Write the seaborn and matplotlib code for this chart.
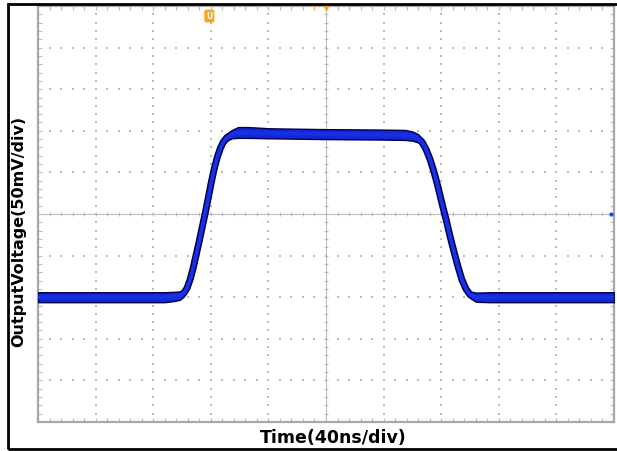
import matplotlib
matplotlib.use('Agg')
import matplotlib.pyplot as plt
import seaborn as sns
import numpy as np
import pandas as pd
from matplotlib.patches import Rectangle

# oscilloscope trace: 40 ns/div, 50 mV/div, screen 10 x 10 div
time_ns = [0, 40, 88, 95, 98.6, 101.4, 103.5, 105.6, 107.6, 109.7, 111.8, 113.9, 116,
           118.1, 120.1, 122.2, 124.3, 126.4, 128.5, 131.2, 134.7, 138.9, 145.8, 161,
           200, 237.5, 255, 260.4, 263.9, 266.7, 269.4, 272.2, 275, 277.8, 280.5, 283.3,
           286.1, 288.9, 291.7, 294.4, 297.2, 300, 304.2, 314, 335, 370, 400]
volt_mv = [-100, -100, -100, -99, -98, -95, -89, -79, -66, -50, -34, -17, 0,
           18, 36, 53, 67, 78, 86, 92, 96, 98, 98, 97,
           96, 95.5, 95, 93.5, 91, 86.5, 78, 66, 50.5, 32.5, 13, -6,
           -26.5, -45.5, -63.5, -79, -90, -97, -100, -100, -100, -100, -100]
# half width of the noise band around the trace
spread_mv = [6, 6, 6, 5.5, 5, 4, 3, 2.5, 2.5, 2.5, 2.5, 2.5, 2.5,
             2.5, 2.5, 2.5, 2.5, 2.5, 3, 4, 5, 6.5, 6.5, 6,
             6, 6, 6, 5.5, 5, 4, 3, 2.5, 2.5, 2.5, 2.5, 2.5,
             2.5, 2.5, 2.5, 2.5, 3, 4, 5.5, 6, 6, 6, 6]

x_label = 'Time(40ns/div)'
y_label = 'OutputVoltage(50mV/div)'

df = pd.DataFrame({'t': time_ns, 'v': volt_mv, 's': spread_mv})

sns.set_style('white')
plt.rcParams['font.family'] = ['DejaVu Sans']

fig = plt.figure(figsize=(6.17, 4.52), dpi=100)
ax = fig.add_axes([38 / 617, 1 - 423 / 452, 576 / 617, 416 / 452])
ax.set_xlim(0, 400)
ax.set_ylim(-250, 250)

grid_c = '#bcbcbc'
# dotted graticule
for k in range(1, 10):
    if k == 5:
        continue
    ys = np.arange(-250, 251, 10)
    ax.scatter(np.full(len(ys), 40 * k), ys, s=1.0, marker='s', color=grid_c, linewidths=0, zorder=1)
    xs = np.arange(0, 401, 8)
    ax.scatter(xs, np.full(len(xs), -250 + 50 * k), s=1.0, marker='s', color=grid_c, linewidths=0, zorder=1)

# centre axes with minor ticks
ax.axhline(0, color=grid_c, lw=0.8, zorder=1)
ax.axvline(200, color=grid_c, lw=0.8, zorder=1)
xs = np.arange(0, 401, 8)
ys = np.arange(-250, 251, 10)
ax.scatter(xs, np.zeros(len(xs)), marker='|', s=12, color=grid_c, linewidths=0.8, zorder=1)
ax.scatter(np.full(len(ys), 200), ys, marker='_', s=12, color=grid_c, linewidths=0.8, zorder=1)

# trace
sns.lineplot(data=df, x='t', y='v', ax=ax, color='#000050', lw=5, zorder=3, estimator=None,
             sort=False, solid_joinstyle='round')
ax.fill_between(df['t'], df['v'] - df['s'], df['v'] + df['s'], facecolor='#1428d0',
                edgecolor='#000050', lw=1, zorder=4)
sns.lineplot(data=df, x='t', y='v', ax=ax, color='#1530e6', lw=2.8, zorder=5, estimator=None,
             sort=False, solid_joinstyle='round')

# scope markers
ax.text(119, 238, 'U', fontsize=5.5, fontweight='bold', color='white', ha='center', va='center',
        bbox=dict(boxstyle='round,pad=0.25', fc='#f5a623', ec='none'), zorder=6)
ax.plot([200], [249], marker='v', ms=5, color='#f5a623', clip_on=False, zorder=6)
ax.plot([190, 193], [250, 250], color='#f5a623', lw=1.5, clip_on=False, zorder=6)
ax.plot([398], [0], marker='o', ms=3, color='#2040ff', mec='none', clip_on=False, zorder=6)

ax.set_xticks(np.arange(0, 401, 40))
ax.set_yticks(np.arange(-250, 251, 50))
ax.set_xticks(np.arange(0, 401, 8), minor=True)
ax.set_yticks(np.arange(-250, 251, 10), minor=True)
ax.tick_params(which='both', direction='in', length=3, width=0.8, color=grid_c,
               top=True, right=True, bottom=True, left=True,
               labelbottom=False, labelleft=False)
ax.set_xlabel('')
ax.set_ylabel('')
for sp in ax.spines.values():
    sp.set_color('#a8a8a8')
    sp.set_linewidth(1.6)
    sp.set_visible(True)

fig.text(333 / 617, 1 - 438 / 452, x_label, fontsize=12.5, fontweight='bold', color='black',
         ha='center', va='center')
fig.text(19 / 617, 1 - 231 / 452, y_label, fontsize=11.5, fontweight='bold', color='black',
         rotation=90, ha='center', va='center')

# outer frame
fig.patches.append(Rectangle((8 / 617, 1 - 450 / 452), 1.2, 445 / 452, transform=fig.transFigure,
                             fill=False, ec='black', lw=2, zorder=10))

fig.savefig('out.png', dpi=100)
